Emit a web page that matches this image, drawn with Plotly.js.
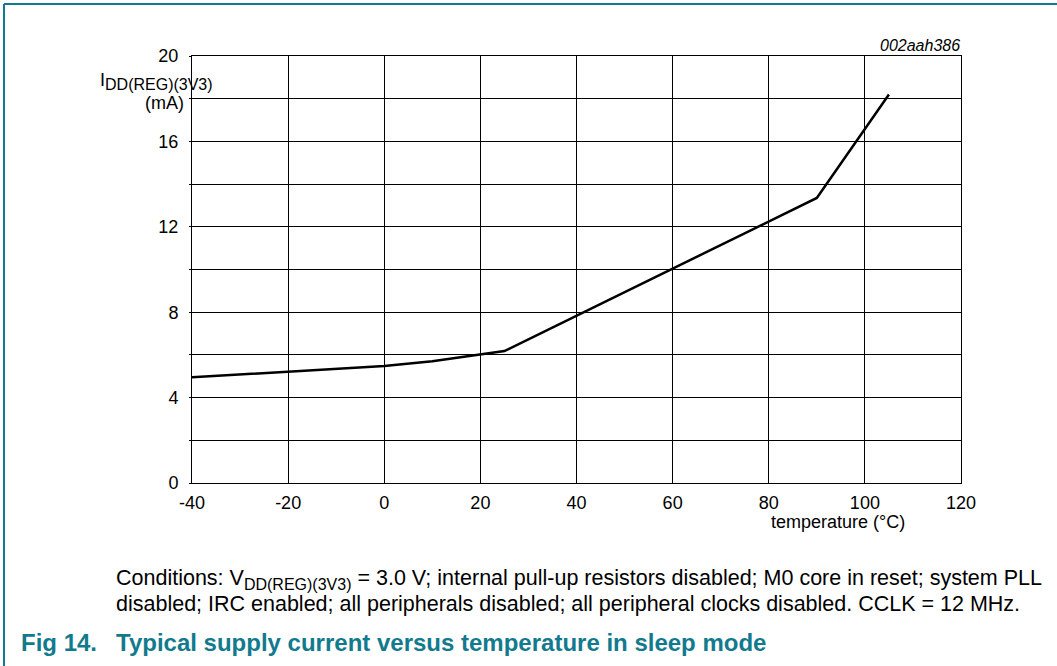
<!DOCTYPE html>
<html><head><meta charset="utf-8">
<script src="https://cdn.plot.ly/plotly-3.0.1.min.js"></script>
<style>html,body{margin:0;padding:0;background:#fff}#chart{width:1057px;height:666px}</style>
</head><body><div id="chart"></div>
<script>
const temperature = [-40, 0, 10, 20, 25, 90, 105];
const currentMA = [4.95, 5.48, 5.7, 6.02, 6.18, 13.35, 18.2];
const xTicks = [-40, -20, 0, 20, 40, 60, 80, 100, 120];
const yTickVals = [0, 2, 4, 6, 8, 10, 12, 14, 16, 18, 20];
const yTickText = ['0', '', '4', '', '8', '', '12', '', '16', '', '20'];

const L = 192, R = 961, T = 56, B = 483;
const px = x => (x - L) / (R - L);
const py = y => (B - y) / (B - T);
const teal = '#127a8e';
const FAM = 'Liberation Sans, Arial, sans-serif';
const f = (size, color) => ({family: FAM, size: size, color: color || '#000'});

const trace = {x: temperature, y: currentMA, mode: 'lines', line: {color: '#000', width: 2.5}, hoverinfo: 'skip'};

const sub = (s, size) => '<sub><span style="font-size:' + size + 'px">' + s + '</span></sub>';

const layout = {
  width: 1057, height: 666,
  margin: {l: L, r: 1057 - R, t: T, b: 666 - B, pad: 0},
  paper_bgcolor: '#fff', plot_bgcolor: '#fff',
  showlegend: false,
  font: f(18),
  xaxis: {range: [-40, 120], tickvals: xTicks, ticktext: xTicks.map(String),
    showgrid: true, gridcolor: '#000', gridwidth: 1, zeroline: false,
    showline: true, linecolor: '#000', linewidth: 1, mirror: true,
    ticks: '', ticklen: 0, tickfont: f(18), ticklabelstandoff: 3, fixedrange: true},
  yaxis: {range: [0, 20], tickvals: yTickVals, ticktext: yTickText,
    showgrid: true, gridcolor: '#000', gridwidth: 1, zeroline: false,
    showline: true, linecolor: '#000', linewidth: 1, mirror: true,
    ticks: 'outside', ticklen: 2, tickcolor: '#000', tickfont: f(18), ticklabelstandoff: 7, fixedrange: true},
  shapes: [
    {type: 'line', xref: 'paper', yref: 'paper', x0: px(4), x1: px(1060), y0: py(4), y1: py(4), line: {color: teal, width: 2}},
    {type: 'line', xref: 'paper', yref: 'paper', x0: px(4), x1: px(4), y0: py(4), y1: py(670), line: {color: teal, width: 2}}
  ],
  annotations: [
    {xref: 'paper', yref: 'paper', x: px(962), y: py(46), xanchor: 'right', yanchor: 'middle', showarrow: false,
      text: '<i>002aah386</i>', font: f(16)},
    {xref: 'paper', yref: 'paper', x: px(98), y: py(82), xanchor: 'left', yanchor: 'middle', showarrow: false,
      text: 'I' + sub('DD(REG)(3V3)', 16), font: f(18)},
    {xref: 'paper', yref: 'paper', x: px(186), y: py(103), xanchor: 'right', yanchor: 'middle', showarrow: false,
      text: '(mA)', font: f(18)},
    {xref: 'paper', yref: 'paper', x: px(838), y: py(522), xanchor: 'center', yanchor: 'middle', showarrow: false,
      text: 'temperature (°C)', font: f(18)},
    {xref: 'paper', yref: 'paper', x: px(114), y: py(579), xanchor: 'left', yanchor: 'middle', showarrow: false,
      text: 'Conditions: V' + sub('DD(REG)(3V3)', 16) + ' = 3.0 V; internal pull-up resistors disabled; M0 core in reset; system PLL', font: f(21.5)},
    {xref: 'paper', yref: 'paper', x: px(114), y: py(604), xanchor: 'left', yanchor: 'middle', showarrow: false,
      text: 'disabled; IRC enabled; all peripherals disabled; all peripheral clocks disabled. CCLK = 12 MHz.', font: f(21.5)},
    {xref: 'paper', yref: 'paper', x: px(19), y: py(642), xanchor: 'left', yanchor: 'middle', showarrow: false,
      text: '<b>Fig 14.</b>', font: f(24, teal)},
    {xref: 'paper', yref: 'paper', x: px(114), y: py(642), xanchor: 'left', yanchor: 'middle', showarrow: false,
      text: '<b>Typical supply current versus temperature in sleep mode</b>', font: f(24, teal)}
  ]
};
Plotly.newPlot('chart', [trace], layout, {displayModeBar: false, staticPlot: true});
</script></body></html>
